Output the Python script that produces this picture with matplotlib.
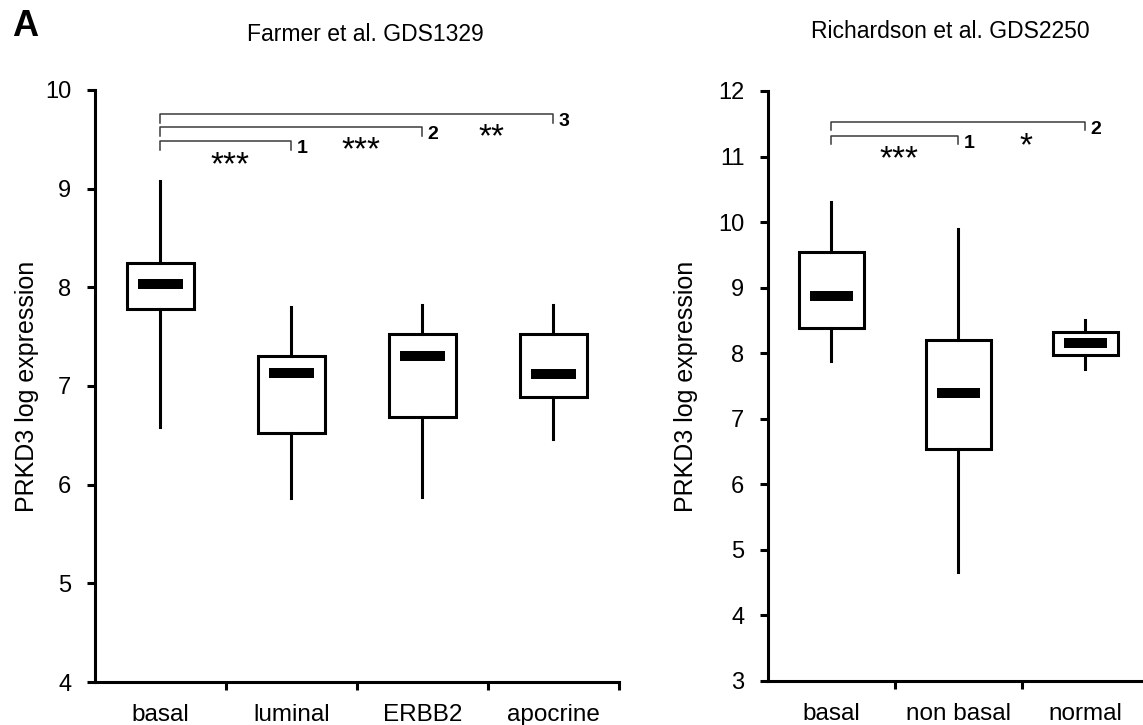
"""
PRKD3 expression box plots for two breast cancer data sets.
"""
import matplotlib
matplotlib.use("Agg")
import matplotlib.pyplot as plt

plt.rcParams["font.family"] = ["Liberation Sans", "DejaVu Sans"]

# Farmer et al. GDS1329
farmer_groups = ["basal", "luminal", "ERBB2", "apocrine"]
farmer_whislo = [6.58, 5.86, 5.88, 6.46]
farmer_q1 = [7.78, 6.52, 6.69, 6.89]
farmer_med = [8.03, 7.13, 7.30, 7.12]
farmer_q3 = [8.25, 7.30, 7.53, 7.53]
farmer_whishi = [9.08, 7.80, 7.82, 7.82]
# (from group, to group, bracket level, stars, label)
farmer_brackets = [(0, 1, 9.48, "***", "1"),
                   (0, 2, 9.625, "***", "2"),
                   (0, 3, 9.757, "**", "3")]

# Richardson et al. GDS2250
rich_groups = ["basal", "non basal", "normal"]
rich_whislo = [7.88, 4.66, 7.76]
rich_q1 = [8.39, 6.54, 7.97]
rich_med = [8.88, 7.39, 8.16]
rich_q3 = [9.55, 8.20, 8.32]
rich_whishi = [10.31, 9.89, 8.51]
rich_brackets = [(0, 1, 11.31, "***", "1"),
                 (0, 2, 11.52, "*", "2")]

LW = 2.2


def draw_panel(ax, groups, whislo, q1, med, q3, whishi, brackets, ylim, drop):
    stats = [dict(whislo=lo, q1=a, med=m, q3=b, whishi=hi, fliers=[])
             for lo, a, m, b, hi in zip(whislo, q1, med, q3, whishi)]
    pos = list(range(len(groups)))
    ax.bxp(stats, positions=pos, widths=0.51, showcaps=False,
           patch_artist=True,
           boxprops=dict(facecolor="white", edgecolor="black", linewidth=LW),
           whiskerprops=dict(color="black", linewidth=LW),
           medianprops=dict(visible=False))
    ax.hlines(med, [p - 0.17 for p in pos], [p + 0.17 for p in pos],
              color="black", linewidth=7.2, zorder=4)

    for g0, g1, h, stars, label in brackets:
        ax.plot([g0, g0, g1, g1], [h - drop, h, h, h - drop],
                color="#3a3a3a", linewidth=1.1, clip_on=False)
        ax.annotate(stars, xy=(g1 - 0.47, h), xytext=(0, -23.4),
                    textcoords="offset points", ha="center", va="baseline",
                    fontsize=24)
        ax.annotate(label, xy=(g1, h), xytext=(3.5, -8.5),
                    textcoords="offset points", ha="left", va="baseline",
                    fontsize=14, fontweight="bold")

    ax.set_xlim(-0.5, len(groups) - 0.5)
    ax.set_ylim(*ylim)
    ax.set_yticks(range(ylim[0], ylim[1] + 1))
    ax.set_xticks([p + 0.5 for p in pos])
    ax.set_xticklabels([])
    ax.set_xticks(pos, minor=True)
    ax.set_xticklabels(groups, minor=True, fontsize=17.5)
    ax.tick_params(axis="x", which="minor", length=0, pad=16)
    ax.tick_params(axis="x", which="major", length=6, width=LW, direction="out")
    ax.tick_params(axis="y", length=6, width=LW, direction="out",
                   labelsize=17, pad=11)
    for side in ("top", "right"):
        ax.spines[side].set_visible(False)
    for side in ("left", "bottom"):
        ax.spines[side].set_linewidth(LW)
    ax.set_ylabel("PRKD3 log expression", fontsize=18)


fig = plt.figure(figsize=(11.43, 7.25), dpi=100)
ax1 = fig.add_axes([0.0831, 0.0593, 0.4584, 0.8166])
ax2 = fig.add_axes([0.6719, 0.0607, 0.3333, 0.8138])

draw_panel(ax1, farmer_groups, farmer_whislo, farmer_q1, farmer_med,
           farmer_q3, farmer_whishi, farmer_brackets, (4, 10), 0.09)
draw_panel(ax2, rich_groups, rich_whislo, rich_q1, rich_med,
           rich_q3, rich_whishi, rich_brackets, (3, 12), 0.12)
ax1.yaxis.set_label_coords(-0.107, 0.5)
ax2.yaxis.set_label_coords(-0.184, 0.5)

fig.text(0.32, 0.952, "Farmer et al. GDS1329", ha="center", va="center",
         fontsize=16.5)
fig.text(0.831, 0.956, "Richardson et al. GDS2250", ha="center", va="center",
         fontsize=16.5)
fig.text(0.022, 0.963, "A", ha="center", va="center", fontsize=26,
         fontweight="bold")

fig.savefig("out.png", dpi=100)
